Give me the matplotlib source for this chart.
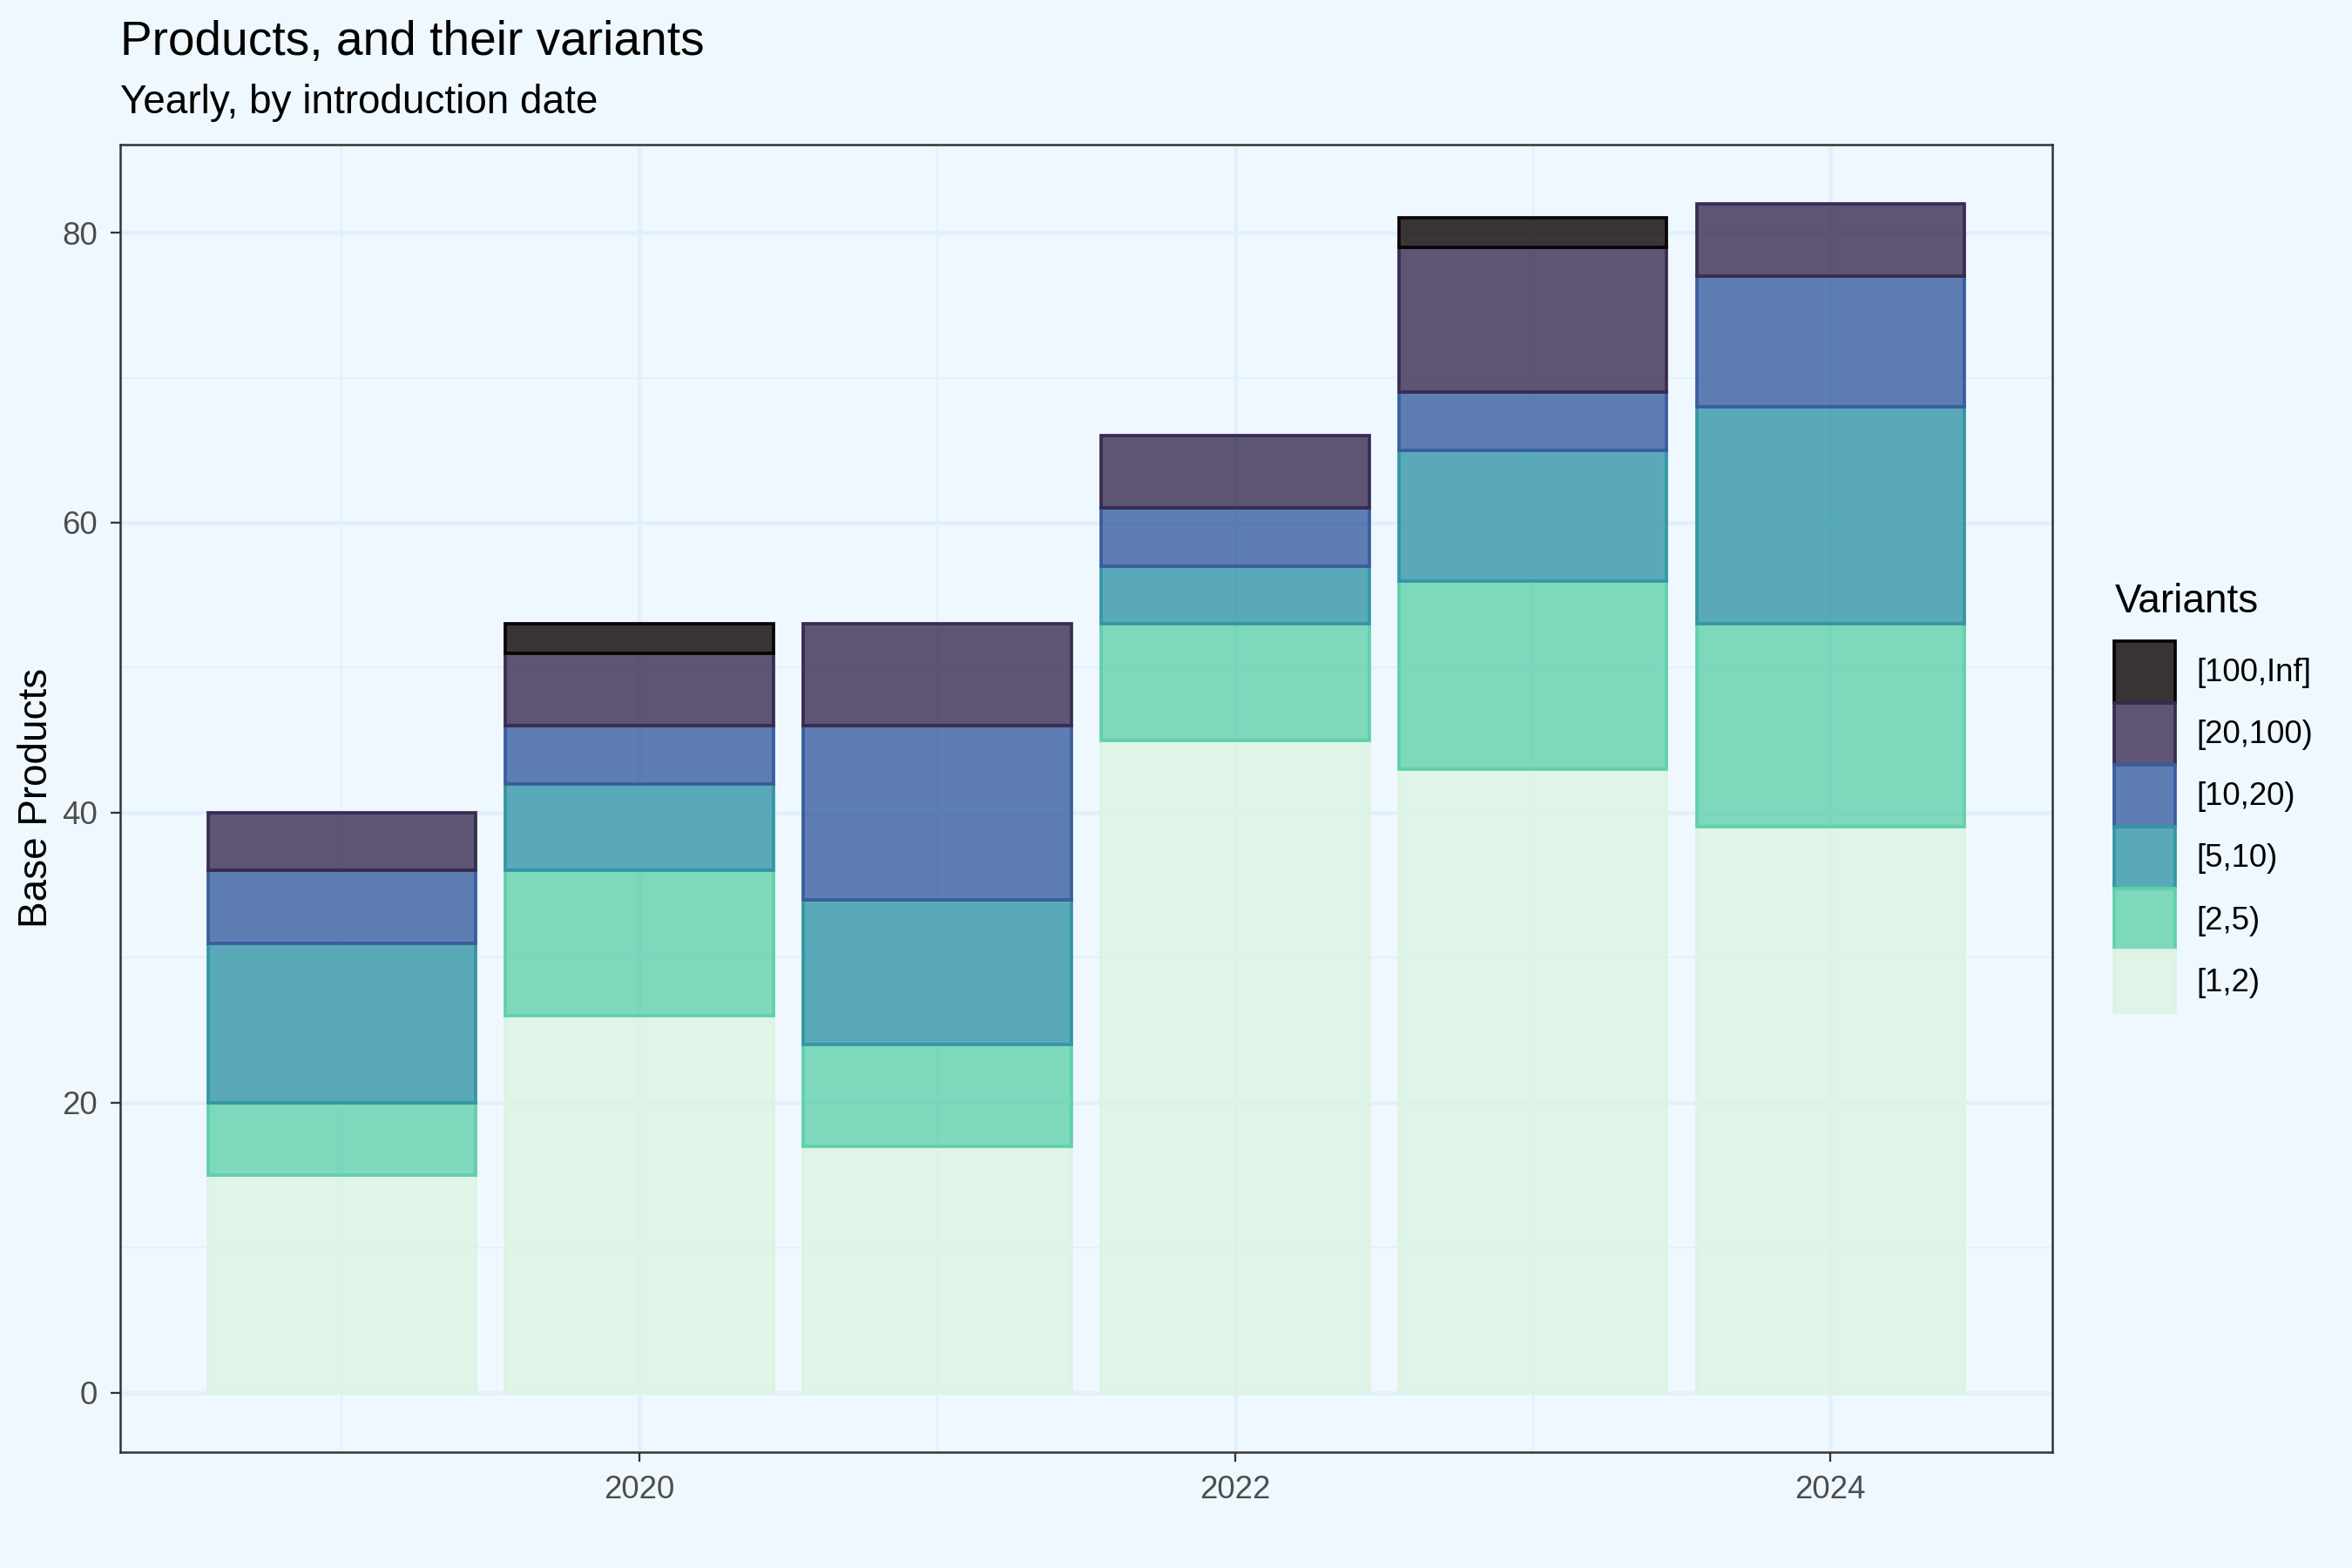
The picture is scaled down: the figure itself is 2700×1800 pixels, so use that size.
import matplotlib
matplotlib.use("Agg")
import matplotlib.pyplot as plt
from matplotlib.patches import Patch
from matplotlib.colors import to_rgba
import numpy as np

plt.rcParams['font.family'] = ['Liberation Sans', 'DejaVu Sans']

years = [2019, 2020, 2021, 2022, 2023, 2024]
categories = ["[1,2)", "[2,5)", "[5,10)", "[10,20)", "[20,100)", "[100,Inf]"]
v_1_2 = [15, 26, 17, 45, 43, 39]
v_2_5 = [5, 10, 7, 8, 13, 14]
v_5_10 = [11, 6, 10, 4, 9, 15]
v_10_20 = [5, 4, 12, 4, 4, 9]
v_20_100 = [4, 5, 7, 5, 10, 5]
v_100_inf = [0, 2, 0, 0, 2, 0]
series = [v_1_2, v_2_5, v_5_10, v_10_20, v_20_100, v_100_inf]

colors = ["#DCF4E2", "#60D0AB", "#3496A7", "#395E9F", "#392C52", "#0B0405"]
bg = "#F0F8FF"
alpha = 0.8

fig = plt.figure(figsize=(9, 6), dpi=300, facecolor=bg)
ax = fig.add_axes([0.051, 0.074, 0.8216, 0.834])
ax.set_facecolor(bg)

# grid
for y in [10, 30, 50, 70]:
    ax.axhline(y, color="#E2F1FD", lw=0.55, zorder=0)
for y in [0, 20, 40, 60, 80]:
    ax.axhline(y, color="#E0F0FC", lw=1.1, zorder=0)
for x in [2019, 2021, 2023]:
    ax.axvline(x, color="#E2F1FD", lw=0.55, zorder=0)
for x in [2020, 2022, 2024]:
    ax.axvline(x, color="#E0F0FC", lw=1.1, zorder=0)

x = np.array(years, dtype=float)
bottom = np.zeros(len(years))
for vals, c in zip(series, colors):
    vals = np.array(vals, dtype=float)
    mask = vals > 0
    ax.bar(x[mask], vals[mask], bottom=bottom[mask], width=0.9,
           facecolor=to_rgba(c, alpha), edgecolor=c, linewidth=0.9, zorder=2)
    bottom += vals

ax.set_xlim(2018.255, 2024.745)
ax.set_ylim(-4.1, 86.1)
ax.set_xticks([2020, 2022, 2024])
ax.set_yticks([0, 20, 40, 60, 80])
ax.tick_params(axis='both', colors="#333333", labelcolor="#4D4D4D",
               labelsize=8.8, length=2.75, width=0.55)
for s in ax.spines.values():
    s.set_color("#333333")
    s.set_linewidth(0.6)
ax.set_ylabel("Base Products", fontsize=11, color="black", labelpad=1.7)

fig.text(0.051, 0.965, "Products, and their variants", fontsize=13.2,
         ha="left", va="baseline")
fig.text(0.051, 0.928, "Yearly, by introduction date", fontsize=11,
         ha="left", va="baseline")

# legend
fig.text(0.899, 1 - 408 / 1045, "Variants", fontsize=11, ha="left", va="baseline")
handles = [Patch(facecolor=to_rgba(c, alpha), edgecolor=c, linewidth=0.9, label=l)
           for c, l in zip(colors, categories)]
handles = handles[::-1]
leg = fig.legend(handles=handles, loc="upper left",
                 bbox_to_anchor=(0.899, 1 - 427 / 1045),
                 frameon=False, fontsize=8.8,
                 handlelength=1.9, handleheight=2.607,
                 labelspacing=0.0, handletextpad=0.66, borderpad=0.0,
                 borderaxespad=0.0)

fig.savefig("out.png", dpi=300, facecolor=bg)
